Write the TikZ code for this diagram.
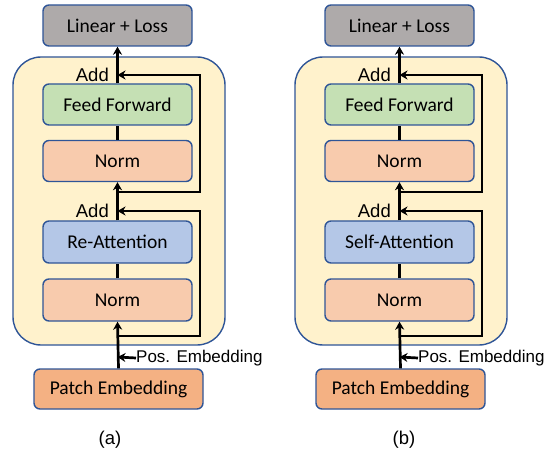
\documentclass[tikz,border=0pt]{standalone}
\usepackage{fontspec}
\setmainfont{Carlito}
\newfontfamily\arialf{Liberation Sans}
\usetikzlibrary{arrows.meta}
\definecolor{bordc}{HTML}{2F5597}
\definecolor{lossc}{HTML}{AEAAAA}
\definecolor{yelc}{HTML}{FFF2CC}
\definecolor{ffc}{HTML}{C5E0B4}
\definecolor{normc}{HTML}{F8CBAD}
\definecolor{attc}{HTML}{B4C7E7}
\definecolor{patchc}{HTML}{F4B183}
\tikzset{
  blk/.style={draw=bordc, line width=1.4pt, rounded corners=6pt, minimum width=149pt, minimum height=41pt, inner sep=0pt, font=\fontsize{19.5}{22}\selectfont},
  bigbox/.style={draw=bordc, line width=1.4pt, fill=yelc, rounded corners=28pt},
  conn/.style={line width=2.7pt, black},
  arr/.style={conn, -{Stealth[length=8pt,width=9pt,inset=2.5pt]}},
  lab/.style={font=\arialf\fontsize{18.5}{22}\selectfont, inner sep=0pt},
  poslab/.style={font=\arialf\fontsize{17}{20}\selectfont, inner sep=0pt},
}
\newcommand\panel[4]{%
  \begin{scope}[xshift=#2pt]
    \node[bigbox, minimum width=212pt, minimum height=288pt] (big#1) at (119,201) {};
    \node[blk, fill=lossc] (loss#1) at (117.5,25.5) {Linear + Loss};
    \node[blk, fill=ffc] (ff#1) at (117.5,104.5) {Feed Forward};
    \node[blk, fill=normc] (na#1) at (117.5,161) {Norm};
    \node[blk, fill=attc, minimum height=42pt] (att#1) at (117.5,242) {#3};
    \node[blk, fill=normc, minimum height=42pt] (nb#1) at (117.5,300) {Norm};
    \node[blk, fill=patchc, minimum width=169pt, minimum height=40pt] (pe#1) at (118.5,389) {Patch Embedding};
    \coordinate (m1#1) at (117.5,336);
    \coordinate (r1#1) at (200,336);
    \coordinate (r2#1) at (200,211);
    \coordinate (add1#1) at (117.5,211);
    \coordinate (m2#1) at (117.5,192);
    \coordinate (r3#1) at (200,192);
    \coordinate (r4#1) at (200,75);
    \coordinate (add2#1) at (117.5,75);
    \coordinate (pos#1) at (117.5,357);
    \node[poslab, anchor=west] (post#1) at (136,358) {Pos. Embedding};
    \node[lab, anchor=east] (adda#1) at (109,75) {Add};
    \node[lab, anchor=east] (addb#1) at (109,211) {Add};
    \node[lab] (cap#1) at (#4,440) {(#1)};
    \draw[arr] (pe#1.north) -- (nb#1.south);
    \draw[conn] (nb#1.north) -- (att#1.south);
    \draw[arr] (att#1.north) -- (na#1.south);
    \draw[conn] (na#1.north) -- (ff#1.south);
    \draw[arr] (ff#1.north) -- (loss#1.south);
    \draw[arr] (m1#1) -- (r1#1) -- (r2#1) -- (add1#1);
    \draw[arr] (m2#1) -- (r3#1) -- (r4#1) -- (add2#1);
    \draw[arr] (post#1.west) -- (pos#1);
  \end{scope}}
\begin{document}
\begin{tikzpicture}[x=1pt,y=-1pt]
\useasboundingbox (0,0) rectangle (550,452);
\panel{a}{0}{Re-Attention}{110}
\panel{b}{282}{Self-Attention}{122}
\end{tikzpicture}
\end{document}
